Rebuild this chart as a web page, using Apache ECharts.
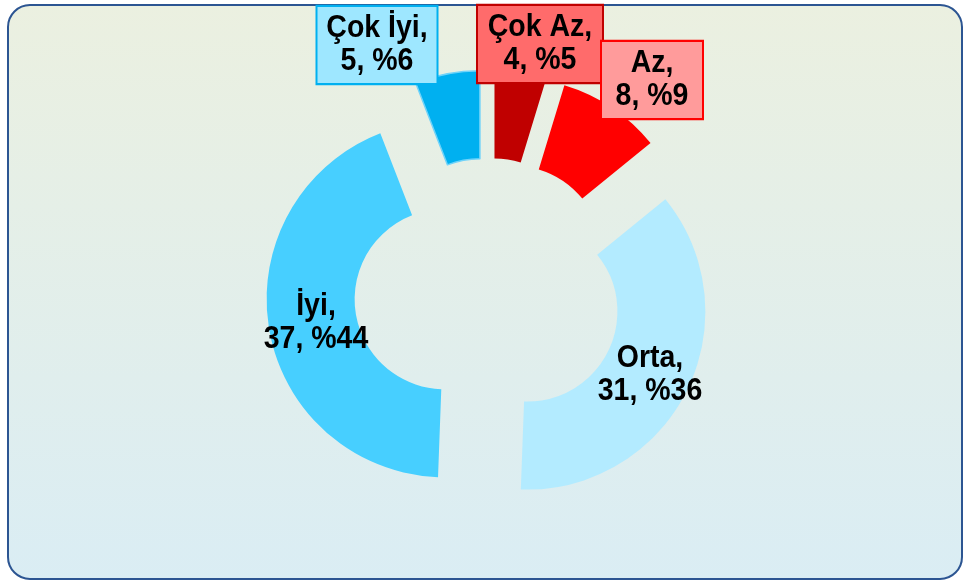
<!DOCTYPE html>
<html>
<head>
<meta charset="utf-8">
<script src="https://cdn.jsdelivr.net/npm/echarts@6/dist/echarts.min.js"></script>
<style>
html,body{margin:0;padding:0;background:#ffffff;}
#chart{width:963px;height:583px;}
</style>
</head>
<body>
<div id="chart"></div>
<script>
// Data
const categories = ['Çok Az', 'Az', 'Orta', 'İyi', 'Çok İyi'];
const values = [4, 8, 31, 37, 5];

// Styles / layout (not data)
const sliceColors = ['#C00000', '#FF0000', '#B3EBFF', '#47CFFF', '#00B0F0'];
const labelCenters = [[540, 44], [652, 80], [650, 375], [316, 323], [377, 45]];
const labelBoxes = [
  { bg: '#FF6B6B', border: '#C00000', w: 124 },
  { bg: '#FF9B9B', border: '#FF0000', w: 100 },
  null,
  null,
  { bg: '#9EE7FF', border: '#00B0F0', w: 119 }
];

const chart = echarts.init(document.getElementById('chart'), null, { renderer: 'canvas' });

const total = values.reduce(function (a, b) { return a + b; }, 0);

const data = categories.map(function (name, i) {
  return {
    name: name,
    value: values[i],
    selected: true,
    itemStyle: { color: sliceColors[i] },
    select: { itemStyle: { color: sliceColors[i] } }
  };
});
data[4].itemStyle.borderColor = '#6FD3FA';
data[4].itemStyle.borderWidth = 1.5;
data[4].select.itemStyle.borderColor = '#6FD3FA';
data[4].select.itemStyle.borderWidth = 1.5;

const labelGraphics = categories.map(function (name, i) {
  const pct = Math.round(values[i] / total * 100);
  const box = labelBoxes[i];
  const style = {
    x: 0,
    y: 0,
    text: name + ',\n' + values[i] + ', %' + pct,
    fill: '#000000',
    font: 'bold 28.5px "Liberation Sans", Arial, sans-serif',
    lineHeight: 29.5,
    align: 'center',
    verticalAlign: 'middle'
  };
  if (box) {
    style.backgroundColor = box.bg;
    style.borderColor = box.border;
    style.borderWidth = 2;
    style.width = box.w - 4;
    style.padding = [5, 2, 5, 2];
  }
  return {
    type: 'text',
    x: labelCenters[i][0],
    y: labelCenters[i][1],
    scaleY: 1.1,
    z: 100,
    silent: true,
    style: style
  };
});

const option = {
  animation: false,
  backgroundColor: 'transparent',
  graphic: [{
    type: 'rect',
    z: -10,
    silent: true,
    shape: { x: 8, y: 5, width: 954, height: 574, r: 22 },
    style: {
      fill: new echarts.graphic.LinearGradient(0, 0, 0, 1, [
        { offset: 0, color: '#EBF0E0' },
        { offset: 1, color: '#DAEDF4' }
      ]),
      stroke: '#2C5592',
      lineWidth: 2
    }
  }].concat(labelGraphics),
  series: [{
    type: 'pie',
    center: [488, 292],
    radius: [90, 178],
    startAngle: 90,
    clockwise: true,
    selectedMode: 'multiple',
    selectedOffset: 44,
    emphasis: { disabled: true },
    label: { show: false },
    labelLine: { show: false },
    data: data
  }]
};

chart.setOption(option);
</script>
</body>
</html>
